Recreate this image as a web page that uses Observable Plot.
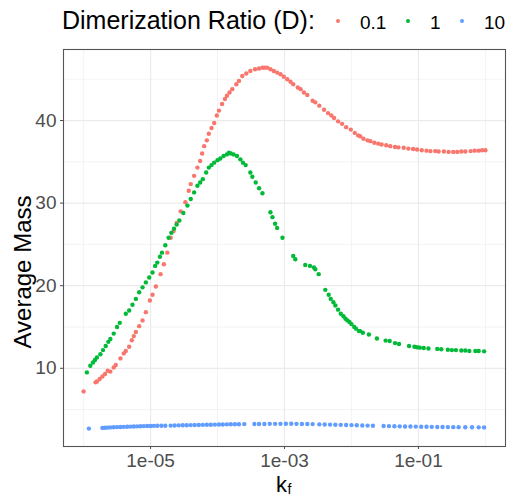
<!DOCTYPE html>
<html>
<head>
<meta charset="utf-8">
<script src="https://cdn.jsdelivr.net/npm/d3@7"></script>
<script src="https://cdn.jsdelivr.net/npm/@observablehq/plot@0.6"></script>
<style>
  html, body { margin: 0; padding: 0; background: white; }
  #wrap { width: 511px; font-family: "Liberation Sans", Arial, sans-serif; }
</style>
</head>
<body>
<div id="wrap">
  <div id="legend"></div>
  <div id="chart"></div>
</div>
<script>
// ---- data ----
const seriesNames = ["0.1", "1", "10"];
const seriesColors = ["#F8766D", "#00BA38", "#619CFF"];
const legendTitle = "Dimerization Ratio (D):";
const yLabel = "Average Mass";

const kf_D01 = [1.00e-6,1.51e-6,1.58e-6,1.74e-6,1.91e-6,2.09e-6,2.29e-6,2.51e-6,2.82e-6,3.02e-6,3.55e-6,3.98e-6,4.27e-6,4.79e-6,5.25e-6,5.62e-6,6.03e-6,6.76e-6,7.59e-6,8.51e-6,9.77e-6,
  1.07e-5,1.20e-5,1.41e-5,1.58e-5,1.78e-5,2.00e-5,2.19e-5,2.45e-5,2.82e-5,3.31e-5,3.72e-5,3.98e-5,4.47e-5,5.01e-5,5.50e-5,5.89e-5,6.31e-5,6.92e-5,7.41e-5,8.13e-5,8.91e-5,9.77e-5,
  1.05e-4,1.17e-4,1.29e-4,1.38e-4,1.51e-4,1.66e-4,1.91e-4,2.09e-4,2.34e-4,2.69e-4,3.09e-4,3.63e-4,4.17e-4,4.68e-4,5.01e-4,5.50e-4,6.17e-4,6.92e-4,7.76e-4,8.71e-4,9.77e-4,
  1.10e-3,1.23e-3,1.35e-3,1.58e-3,1.74e-3,1.95e-3,2.19e-3,2.63e-3,2.88e-3,3.31e-3,3.89e-3,4.47e-3,5.01e-3,5.50e-3,6.31e-3,7.24e-3,8.32e-3,9.77e-3,
  1.12e-2,1.26e-2,1.35e-2,1.51e-2,1.74e-2,1.91e-2,2.19e-2,2.51e-2,2.82e-2,3.31e-2,3.80e-2,4.47e-2,5.01e-2,6.03e-2,7.08e-2,8.32e-2,9.55e-2,
  0.112,0.132,0.151,0.178,0.200,0.240,0.282,0.331,0.380,0.437,0.501,0.603,0.692,0.794,0.891,1.00];
const mass_D01 = [7.2,8.3,8.4,8.7,9.0,9.3,9.7,9.6,10.1,10.4,11.2,11.8,12.1,12.6,13.4,13.9,14.4,15.1,15.8,16.8,18.2,
  18.9,19.9,21.4,22.6,24.0,25.8,26.6,27.6,29.0,30.1,31.5,32.3,33.3,34.3,35.1,36.0,36.9,37.6,38.4,39.1,39.7,40.6,
  41.2,42.0,42.6,43.0,43.4,43.8,44.4,44.8,45.4,45.7,46.0,46.2,46.3,46.4,46.4,46.4,46.2,46.0,45.8,45.6,45.3,
  45.0,44.7,44.4,44.0,43.8,43.4,43.1,42.4,42.2,41.8,41.3,40.9,40.6,40.3,39.9,39.6,39.2,38.9,
  38.5,38.2,38.1,37.8,37.6,37.5,37.3,37.2,37.1,37.0,36.9,36.8,36.75,36.7,36.6,36.55,36.5,
  36.4,36.35,36.3,36.3,36.25,36.25,36.2,36.2,36.2,36.25,36.25,36.3,36.35,36.35,36.4,36.4];

const kf_D1 = [1.12e-6,1.26e-6,1.38e-6,1.48e-6,1.58e-6,1.78e-6,1.95e-6,2.14e-6,2.34e-6,2.51e-6,2.82e-6,3.16e-6,3.47e-6,4.27e-6,4.79e-6,5.37e-6,6.03e-6,6.76e-6,7.59e-6,8.51e-6,9.55e-6,
  1.07e-5,1.17e-5,1.26e-5,1.38e-5,1.48e-5,1.66e-5,1.86e-5,2.04e-5,2.24e-5,2.45e-5,2.69e-5,3.09e-5,3.55e-5,3.98e-5,4.47e-5,5.01e-5,5.50e-5,6.03e-5,6.76e-5,7.41e-5,8.13e-5,8.91e-5,
  1.00e-4,1.10e-4,1.23e-4,1.38e-4,1.48e-4,1.58e-4,1.74e-4,1.95e-4,2.19e-4,2.40e-4,2.63e-4,3.09e-4,3.31e-4,3.72e-4,4.17e-4,4.68e-4,6.17e-4,6.61e-4,7.24e-4,7.76e-4,9.33e-4,
  1.35e-3,1.45e-3,2.04e-3,2.40e-3,2.75e-3,2.88e-3,3.24e-3,4.07e-3,4.57e-3,4.90e-3,5.37e-3,5.75e-3,6.31e-3,6.92e-3,7.59e-3,8.13e-3,8.71e-3,9.33e-3,
  1.00e-2,1.10e-2,1.17e-2,1.29e-2,1.35e-2,1.48e-2,1.82e-2,2.40e-2,3.24e-2,3.72e-2,4.47e-2,5.13e-2,7.24e-2,8.71e-2,9.55e-2,
  0.105,0.120,0.141,0.191,0.219,0.275,0.316,0.363,0.437,0.501,0.575,0.708,0.794,0.955];
const mass_D1 = [9.5,10.3,10.7,11.0,11.3,11.7,12.2,12.7,13.2,13.55,14.2,15.0,15.5,16.6,17.0,17.7,18.4,19.2,19.8,20.4,21.0,
  21.6,22.4,22.8,23.5,24.0,24.9,25.8,26.4,26.9,27.4,27.9,28.8,29.7,30.5,31.3,32.1,32.5,32.9,33.7,34.3,34.6,34.9,
  35.2,35.4,35.7,35.9,36.1,36.0,35.9,35.7,35.3,34.9,34.6,33.7,33.2,32.5,31.8,31.2,28.9,28.3,27.5,27.0,25.8,
  23.6,23.2,22.5,22.4,22.2,22.0,21.4,19.5,18.9,18.4,18.0,17.6,17.1,16.6,16.3,16.0,15.8,15.6,
  15.35,15.0,14.8,14.5,14.5,14.3,14.1,13.6,13.35,13.3,13.05,12.95,12.7,12.6,12.55,
  12.5,12.45,12.4,12.35,12.3,12.25,12.2,12.2,12.15,12.15,12.1,12.1,12.1,12.05];

const kf_D10 = [1.20e-6,1.91e-6,2.09e-6,2.29e-6,2.51e-6,2.82e-6,3.16e-6,3.55e-6,3.98e-6,4.47e-6,5.01e-6,5.62e-6,6.31e-6,7.08e-6,7.94e-6,8.91e-6,
  1.00e-5,1.12e-5,1.26e-5,1.45e-5,1.66e-5,2.00e-5,2.29e-5,2.63e-5,3.02e-5,3.47e-5,3.98e-5,4.57e-5,5.25e-5,6.03e-5,6.92e-5,7.94e-5,9.12e-5,
  1.05e-4,1.20e-4,1.38e-4,1.58e-4,1.82e-4,2.09e-4,2.51e-4,3.55e-4,4.17e-4,5.01e-4,6.03e-4,7.24e-4,8.71e-4,
  1.05e-3,1.26e-3,1.51e-3,1.82e-3,2.19e-3,2.63e-3,3.31e-3,3.98e-3,4.79e-3,5.75e-3,6.92e-3,8.32e-3,
  1.00e-2,1.20e-2,1.45e-2,1.74e-2,2.09e-2,3.02e-2,3.63e-2,4.37e-2,5.25e-2,6.31e-2,7.59e-2,9.12e-2,
  0.110,0.132,0.158,0.191,0.229,0.275,0.331,0.398,0.501,0.631,0.794,0.955];
const mass_D10 = [2.70,2.78,2.80,2.82,2.84,2.86,2.88,2.90,2.91,2.93,2.94,2.96,2.97,2.99,3.00,3.01,
  3.02,3.03,3.04,3.05,3.05,3.06,3.08,3.09,3.10,3.11,3.12,3.13,3.14,3.15,3.16,3.17,3.18,
  3.19,3.20,3.21,3.22,3.23,3.23,3.24,3.25,3.26,3.26,3.27,3.27,3.27,
  3.28,3.28,3.27,3.26,3.25,3.24,3.21,3.19,3.18,3.16,3.15,3.13,
  3.12,3.10,3.08,3.06,3.04,3.01,3.00,2.99,2.97,2.96,2.95,2.94,
  2.93,2.92,2.91,2.90,2.89,2.88,2.87,2.87,2.86,2.86,2.85,2.84];

const xMajor = [1e-5, 1e-3, 1e-1];
const xMinor = [1e-6, 1e-4, 1e-2, 1];
const yMajor = [10, 20, 30, 40];
const yMinor = [5, 15, 25, 35, 45];

// ---- build table ----
const seriesKf = [kf_D01, kf_D1, kf_D10];
const seriesMass = [mass_D01, mass_D1, mass_D10];
const data = seriesNames.flatMap((name, s) =>
  seriesKf[s].map((k, i) => ({ D: name, kf: k, mass: seriesMass[s][i] })));

const FONT = "'Liberation Sans', Arial, sans-serif";
const grid = "#EBEBEB";

const chart = Plot.plot({
  width: 511,
  height: 458,
  marginLeft: 63,
  marginRight: 6,
  marginTop: 9,
  marginBottom: 52,
  style: { fontFamily: FONT, background: "white", overflow: "visible" },
  x: { type: "log", domain: [Math.pow(10, -6.3), Math.pow(10, 0.3)], label: null },
  y: { domain: [0.53, 48.6], label: null },
  color: { domain: seriesNames, range: seriesColors },
  marks: [
    Plot.ruleX(xMinor, { stroke: grid, strokeWidth: 0.6 }),
    Plot.ruleY(yMinor, { stroke: grid, strokeWidth: 0.6 }),
    Plot.ruleX(xMajor, { stroke: grid, strokeWidth: 1.2 }),
    Plot.ruleY(yMajor, { stroke: grid, strokeWidth: 1.2 }),
    Plot.dot(data, { x: "kf", y: "mass", fill: "D", r: 2.2 }),
    Plot.frame({ stroke: "#555", strokeWidth: 1.1 }),
    Plot.axisX({
      ticks: xMajor,
      tickFormat: d => d.toExponential().replace(/e([+-])(\d)$/, "e$10$2"),
      tickSize: 3, tickPadding: 4, fontSize: 19, color: "#4D4D4D", label: null
    }),
    Plot.axisY({
      ticks: yMajor, tickSize: 3, tickPadding: 4, fontSize: 19, color: "#4D4D4D", label: null
    }),
    Plot.text([yLabel], {
      frameAnchor: "left", rotate: -90, dx: -40, dy: 24,
      fontSize: 24, fill: "black", textAnchor: "middle", lineAnchor: "middle"
    }),
    Plot.text(["k"], {
      frameAnchor: "bottom", dx: -3, dy: 45, fontSize: 22, fill: "black", lineAnchor: "bottom"
    }),
    Plot.text(["f"], {
      frameAnchor: "bottom", dx: 5, dy: 47.5, fontSize: 14, fill: "black", lineAnchor: "bottom"
    })
  ]
});
document.getElementById("chart").appendChild(chart);

// ---- legend above ----
const leg = d3.select("#legend").append("svg")
  .attr("width", 511).attr("height", 40)
  .style("display", "block")
  .style("font-family", FONT);
leg.append("text").attr("x", 62).attr("y", 29).attr("font-size", 25).attr("fill", "black").text(legendTitle);
const keyX = [338, 408, 462];
seriesNames.forEach((n, i) => {
  leg.append("circle").attr("cx", keyX[i]).attr("cy", 21).attr("r", 2).attr("fill", seriesColors[i]);
  leg.append("text").attr("x", keyX[i] + 22).attr("y", 28.5).attr("font-size", 19).attr("fill", "black").text(n);
});
</script>
</body>
</html>
